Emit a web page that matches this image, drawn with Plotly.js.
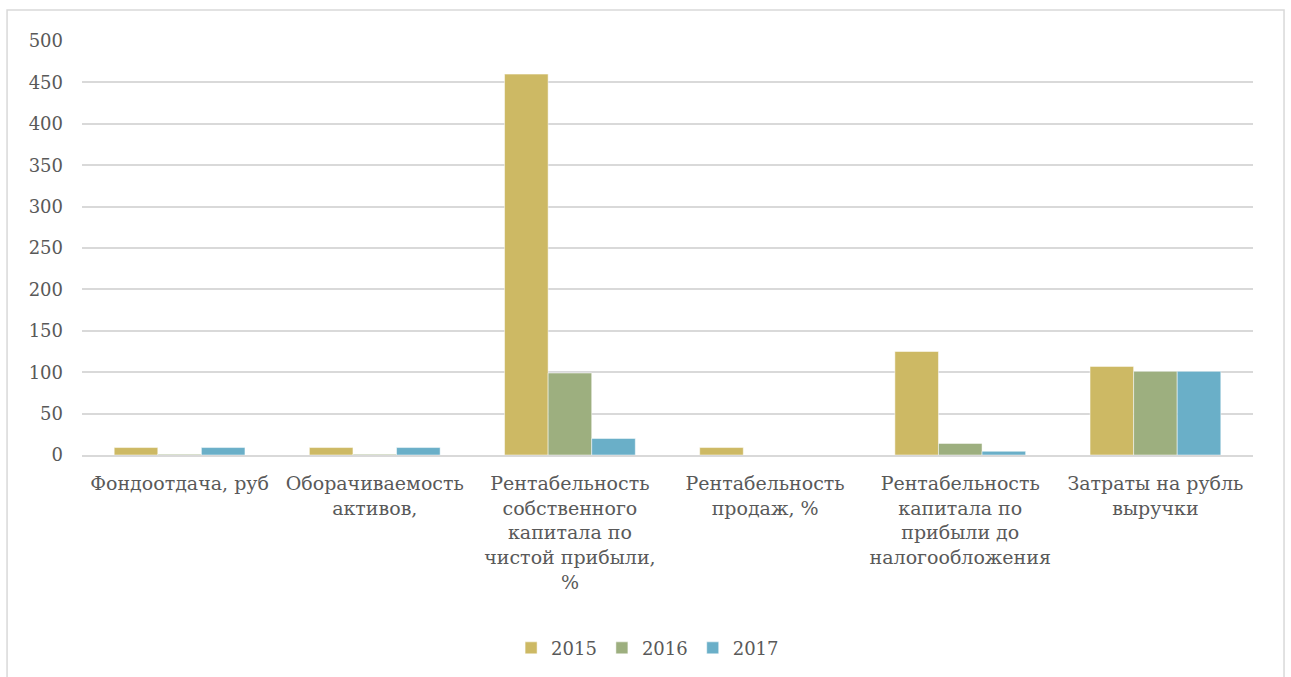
<!DOCTYPE html>
<html><head><meta charset="utf-8">
<script src="https://cdn.plot.ly/plotly-3.0.1.min.js"></script>
<style>body{margin:0;background:#fff}#chart{width:1291px;height:677px}</style>
</head><body><div id="chart"></div>
<script>
const categories = [
  "Фондоотдача, руб",
  "Оборачиваемость<br>активов,",
  "Рентабельность<br>собственного<br>капитала по<br>чистой прибыли,<br>%",
  "Рентабельность<br>продаж, %",
  "Рентабельность<br>капитала по<br>прибыли до<br>налогообложения",
  "Затраты на рубль<br>выручки"
];
const series2015 = [9, 9, 460, 9, 125, 107];
const series2016 = [1, 1, 99, 0, 14, 101];
const series2017 = [9, 9, 20, 0, 4.5, 101];
const seriesNames = ["2015", "2016", "2017"];
const colors = ["#CDB964", "#9DAF7F", "#6AAFC8"];

const data = [series2015, series2016, series2017].map((v, i) => ({
  type: "bar", x: categories, y: v, name: seriesNames[i],
  marker: {color: colors[i], line: {color: "#ffffff", width: 0.5}}
}));

const serif = "DejaVu Serif";
const layout = {
  width: 1291, height: 677,
  margin: {l: 82, r: 38, t: 41, b: 221},
  paper_bgcolor: "#fff", plot_bgcolor: "#fff",
  font: {family: serif, size: 19, color: "#595959"},
  barmode: "group", bargap: 0.33, bargroupgap: 0,
  xaxis: {tickangle: 0, showline: true, linecolor: "#d9d9d9", linewidth: 2, ticks: "", ticklabelstandoff: 10, tickfont: {family: serif, size: 19, color: "#595959"}},
  yaxis: {range: [0, 500], dtick: 50, gridcolor: "#d9d9d9", gridwidth: 2, zeroline: false, ticks: "", ticklabelstandoff: 18, tickfont: {family: serif, size: 18, color: "#595959"}},
  legend: {orientation: "h", x: 0.483, xanchor: "center", y: -0.463, yanchor: "middle", font: {family: serif, size: 18, color: "#595959"}},
  shapes: [{type: "rect", xref: "paper", yref: "paper", x0: -0.064, x1: 1.0265, y0: -0.6, y1: 1.0747,
    line: {color: "#d9d9d9", width: 1.5}, layer: "below"}]
};
Plotly.newPlot("chart", data, layout, {displayModeBar: false});
</script></body></html>
